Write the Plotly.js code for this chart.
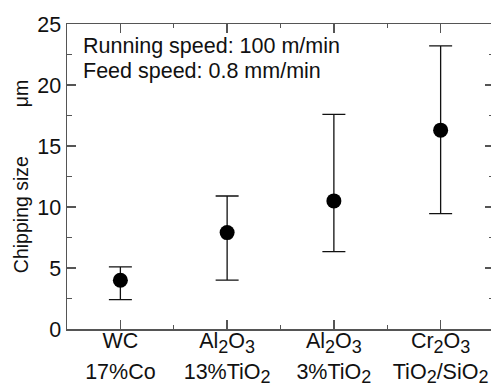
<!DOCTYPE html>
<html>
<head>
<meta charset="utf-8">
<script src="https://cdn.plot.ly/plotly-3.0.1.min.js"></script>
<style>
html,body{margin:0;padding:0;overflow:hidden;background:#fff;}
#chart{width:500px;height:387px;}
</style>
</head>
<body>
<div id="chart"></div>
<script>
// Data
const positions = [0, 1, 2, 3];
const labelLine1 = ["WC", "Al<sub>2</sub>O<sub>3</sub>", "Al<sub>2</sub>O<sub>3</sub>", "Cr<sub>2</sub>O<sub>3</sub>"];
const labelLine2 = ["17%Co", "13%TiO<sub>2</sub>", "3%TiO<sub>2</sub>", "TiO<sub>2</sub>/SiO<sub>2</sub>"];
const meanSize = [4.0, 7.9, 10.5, 16.3];
const upperSize = [5.1, 10.9, 17.6, 23.2];
const lowerSize = [2.4, 4.0, 6.35, 9.45];
const yTickVals = [0, 5, 10, 15, 20, 25];

const errPlus = upperSize.map((u, i) => u - meanSize[i]);
const errMinus = lowerSize.map((l, i) => meanSize[i] - l);

const FONT = "Liberation Sans, Arial, Helvetica, sans-serif";
const AXC = "#555";
const FS = 21.5;

// enlarge subscripts a bit (reference subscripts are ~85% size)
const bigSub = s => s.replace(/<sub>(.*?)<\/sub>/g, "<sub><span style='font-size:18px'>$1</span></sub>");

const traces = [
  {
    x: positions, y: meanSize, type: "scatter", mode: "markers",
    marker: {color: "#000", size: 15},
    error_y: {type: "data", symmetric: false, array: errPlus, arrayminus: errMinus,
              color: "#111", thickness: 1.3, width: 11.5},
    showlegend: false, hoverinfo: "skip"
  },
  {x: [], y: [], xaxis: "x2", type: "scatter", mode: "markers", showlegend: false}
];

const layout = {
  width: 500, height: 387,
  margin: {l: 67, r: 6, t: 24, b: 58},
  paper_bgcolor: "#fff", plot_bgcolor: "#fff",
  font: {family: FONT, size: FS, color: "#111"},
  showlegend: false,
  xaxis: {
    range: [-0.5, 3.5], tickmode: "array", tickvals: positions, ticktext: labelLine1.map(bigSub),
    showgrid: false, zeroline: false, showline: true, linecolor: AXC, linewidth: 1.5,
    mirror: "ticks", ticks: "inside", ticklen: 9, tickwidth: 1.3, tickcolor: AXC,
    minor: {tickmode: "linear", tick0: 0.5, dtick: 1, ticks: "inside", ticklen: 4, tickwidth: 1.3, tickcolor: AXC},
    ticklabelstandoff: -8,
    tickfont: {family: FONT, size: FS, color: "#111"}
  },
  xaxis2: {
    overlaying: "x", anchor: "y", side: "bottom",
    range: [-0.5, 3.5], tickmode: "array", tickvals: positions, ticktext: labelLine2.map(bigSub),
    showgrid: false, zeroline: false, showline: false, ticks: "",
    ticklabelstandoff: 27,
    tickfont: {family: FONT, size: FS, color: "#111"}
  },
  yaxis: {
    range: [0, 25], tickmode: "array", tickvals: yTickVals,
    showgrid: false, zeroline: false, showline: true, linecolor: AXC, linewidth: 1.5,
    mirror: "ticks", ticks: "inside", ticklen: 9, tickwidth: 1.3, tickcolor: AXC,
    minor: {tickmode: "linear", tick0: 2.5, dtick: 5, ticks: "inside", ticklen: 5, tickwidth: 1.3, tickcolor: AXC},
    tickfont: {family: FONT, size: FS, color: "#111"},
    title: {text: "Chipping size" + "\u00a0".repeat(9) + "μm", font: {family: FONT, size: 19.5, color: "#111"}, standoff: 3}
  },
  annotations: [
    {xref: "paper", yref: "paper", x: 0.033, y: 0.881, xanchor: "left", yanchor: "bottom",
     text: "Running speed: 100 m/min", showarrow: false, font: {family: FONT, size: FS, color: "#111"}},
    {xref: "paper", yref: "paper", x: 0.033, y: 0.801, xanchor: "left", yanchor: "bottom",
     text: "Feed speed: 0.8 mm/min", showarrow: false, font: {family: FONT, size: FS, color: "#111"}}
  ]
};

Plotly.newPlot("chart", traces, layout, {staticPlot: true, displayModeBar: false});
</script>
</body>
</html>
